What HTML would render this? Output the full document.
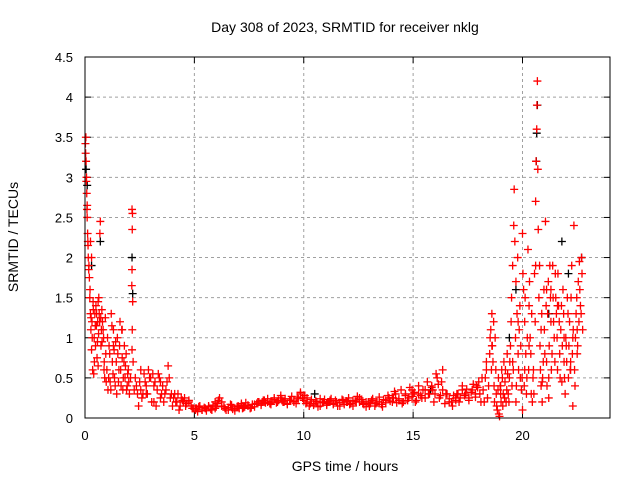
<!DOCTYPE html>
<html><head><meta charset="utf-8"><style>
body{margin:0;background:#fff}
svg{display:block;font-family:"Liberation Sans",sans-serif}
</style></head><body>
<svg id="c" width="640" height="480">
<text x="345" y="32" text-anchor="middle" font-size="14">Day 308 of 2023, SRMTID for receiver nklg</text>
<text x="345" y="471" text-anchor="middle" font-size="14">GPS time / hours</text>
<text transform="translate(18,237) rotate(-90)" text-anchor="middle" font-size="14">SRMTID / TECUs</text>
<g id="grid"></g>
<g id="ticks"></g>
<g id="black"></g>
<g id="red"></g>
<rect x="85" y="57" width="525" height="361" fill="none" stroke="#000" stroke-width="1"/>
</svg>
<script>
const xTicks=[0,5,10,15,20];
const yTicks=[0,0.5,1,1.5,2,2.5,3,3.5,4,4.5];
const yTickLabels=["0","0.5","1","1.5","2","2.5","3","3.5","4","4.5"];
const redHours=[0.02,0.04,0.05,0.06,0.08,0.1,0.1,0.12,0.14,0.15,0.17,0.2,0.22,0.25,0.27,0.3,0.32,0.35,0.38,0.4,0.42,0.45,0.48,0.5,0.52,0.55,0.58,0.6,0.62,0.65,0.68,0.7,0.72,0.75,0.78,0.8,0.85,0.88,0.9,0.95,0.25,0.3,
1.0,1.05,1.1,1.15,1.2,1.25,1.3,1.35,1.4,1.45,1.5,1.55,1.6,1.65,1.7,1.75,1.8,1.85,1.9,1.95,2.0,
2.15,2.17,2.16,2.15,2.14,2.18,2.16,2.15,2.2,2.25,
2.3,2.4,2.5,2.6,2.7,2.8,2.9,3.0,3.1,3.2,3.3,3.4,3.5,3.6,3.7,3.8,3.85,3.9,4.0,4.1,4.2,4.3,4.4,4.5,2.45,2.65,3.05,3.25,3.55,
4.6,4.75,4.9,5.05,5.2,5.35,5.5,5.65,5.8,5.95,6.1,6.25,6.4,6.55,6.7,6.85,7.0,7.15,7.3,7.45,7.6,7.75,7.9,8.05,8.2,8.35,8.5,8.65,8.8,8.95,9.1,9.25,9.4,9.55,9.7,9.85,10.0,10.15,10.3,10.45,10.6,10.75,10.9,11.05,11.2,11.35,11.5,11.65,11.8,11.95,12.1,12.25,12.4,12.55,12.7,12.85,13.0,13.15,13.3,13.45,13.6,13.75,13.9,14.05,14.2,14.35,14.5,14.65,14.8,14.95,15.1,15.25,15.4,15.55,15.7,15.85,16.0,16.1,16.2,16.35,16.5,16.65,16.8,16.95,17.1,17.25,17.4,17.55,17.7,17.85,18.0,18.1,18.2,18.3,18.4,18.5,18.55,18.6,18.65,18.7,18.75,18.8,18.85,18.9,18.95,19.0,19.05,19.1,19.2,19.3,19.35,19.4,19.45,19.5,19.55,19.6,19.62,19.65,19.7,19.75,19.8,19.85,19.9,19.95,20.0,20.05,20.1,20.15,20.2,20.25,20.3,20.35,20.4,20.45,20.5,20.55,20.6,20.62,20.65,20.68,20.66,20.7,20.72,20.75,20.8,20.85,20.9,20.95,21.0,21.05,21.1,21.15,21.2,21.25,21.3,21.35,21.4,21.45,21.5,21.55,21.6,21.65,21.7,21.75,21.8,21.85,21.9,21.95,22.0,22.05,22.1,22.15,22.2,22.25,22.3,22.35,22.4,22.45,22.5,22.55,22.6,22.65,22.7,22.75,
5.1,6.0,7.2,8.1,9.0,10.1,11.1,12.0,13.1,14.1,15.0,15.9,16.3,17.0,17.9,18.35,18.6,19.0,19.25,19.55,19.8,20.1,20.3,20.6,20.85,21.1,21.3,21.6,21.9,22.2,22.5,1.3,1.7,0.6,2.8,3.45];
const redTec=[3.42,3.5,3.2,2.95,2.8,2.65,2.5,2.3,2.15,2.0,1.85,1.75,1.5,1.3,1.1,0.85,1.2,0.6,1.35,0.55,1.0,1.3,0.9,1.4,1.15,0.75,1.2,1.45,1.05,1.3,2.3,2.45,1.25,1.1,0.95,1.2,1.0,0.7,0.5,0.8,2.2,2.0,
0.6,0.35,0.9,0.45,1.3,0.7,1.1,0.5,0.95,0.3,0.8,0.6,1.2,0.4,0.75,0.5,0.9,0.65,0.35,0.55,0.45,
2.6,2.55,2.35,1.85,1.65,1.45,1.1,0.85,0.7,0.35,
0.5,0.3,0.45,0.25,0.55,0.4,0.6,0.5,0.55,0.45,0.35,0.5,0.3,0.2,0.35,0.65,0.5,0.25,0.15,0.3,0.2,0.1,0.25,0.2,0.15,0.3,0.2,0.15,0.4,
0.15,0.2,0.12,0.1,0.14,0.1,0.12,0.15,0.1,0.2,0.22,0.15,0.12,0.1,0.16,0.12,0.15,0.18,0.14,0.16,0.13,0.17,0.2,0.18,0.22,0.2,0.17,0.23,0.2,0.25,0.2,0.18,0.22,0.2,0.26,0.3,0.22,0.25,0.18,0.16,0.2,0.15,0.2,0.18,0.22,0.17,0.2,0.15,0.22,0.2,0.17,0.22,0.2,0.25,0.18,0.2,0.15,0.22,0.18,0.2,0.14,0.22,0.25,0.2,0.3,0.22,0.18,0.3,0.25,0.35,0.2,0.3,0.25,0.35,0.3,0.4,0.3,0.5,0.25,0.6,0.3,0.2,0.15,0.25,0.2,0.35,0.3,0.25,0.35,0.3,0.45,0.2,0.35,0.5,0.25,0.8,1.1,1.3,0.7,0.4,1.0,0.3,0.1,0.5,0.02,0.3,0.6,0.15,0.45,0.8,0.3,0.5,0.9,1.5,1.9,2.4,2.85,2.2,1.7,1.3,0.8,1.1,0.5,0.35,2.3,1.6,1.2,0.8,0.5,2.1,1.4,1.0,0.3,0.2,0.6,1.8,2.7,3.2,3.6,4.2,3.9,3.1,2.35,1.5,0.9,0.4,0.2,0.7,1.1,2.45,1.6,1.3,0.5,1.9,1.2,0.8,1.5,1.0,1.8,1.3,0.6,1.4,0.8,1.1,0.45,1.6,0.7,0.3,0.9,1.5,0.5,1.2,0.7,1.9,1.0,2.4,0.4,1.3,0.8,1.7,1.95,1.4,2.0,1.1,
0.12,0.14,0.12,0.2,0.22,0.18,0.2,0.2,0.22,0.25,0.3,0.35,0.45,0.3,0.4,0.6,0.9,0.4,0.2,0.7,1.2,0.6,0.9,1.9,1.1,0.7,1.6,1.4,1.0,0.6,1.1,0.9,1.1,0.65,0.3,0.45];
const redHoursB=[4.55,4.65,4.75,4.85,4.95,
5.05,5.15,5.25,5.35,5.45,5.55,5.65,5.75,5.85,5.95,6.05,6.15,6.25,6.35,6.45,6.55,6.65,6.75,6.85,6.95,
7.05,7.15,7.25,7.35,7.45,7.55,7.65,7.75,7.85,7.95,8.05,8.15,8.25,8.35,8.45,8.55,8.65,8.75,8.85,8.95,
9.05,9.15,9.25,9.35,9.45,9.55,9.65,9.75,9.85,9.95,10.05,10.15,10.25,10.35,10.45,10.55,10.65,10.75,10.85,10.95,
11.05,11.15,11.25,11.35,11.45,11.55,11.65,11.75,11.85,11.95,12.05,12.15,12.25,12.35,12.45,12.55,12.65,12.75,12.85,12.95,
13.05,13.15,13.25,13.35,13.45,13.55,13.65,13.75,13.85,13.95,14.05,14.15,14.25,14.35,14.45,14.55,14.65,14.75,14.85,14.95,
15.05,15.15,15.25,15.35,15.45,15.55,15.65,15.75,15.85,15.95,16.05,16.15,16.25,16.35,16.45,16.55,16.65,16.75,16.85,16.95,
17.05,17.15,17.25,17.35,17.45,17.55,17.65,17.75,17.85,17.95,
0.03,0.07,0.09,0.13,0.18,0.23,0.28,0.33,0.37,0.43,0.47,0.53,0.57,0.63,0.67,0.73,0.77,0.83,0.87,0.93,0.97,1.03,1.08,1.13,1.18,1.23,1.28,1.33,1.38,1.43,1.48,1.53,1.58,1.63,1.68,1.73,1.78,1.83,1.88,1.93,1.98,2.03,2.08,
2.35,2.55,2.75,2.85,2.95,3.15,3.35,3.45,3.65,3.75,3.95,4.05,4.15,4.25,4.35,4.45,2.55,3.15,
18.05,18.15,18.25,18.35,18.45,18.52,18.58,18.62,18.68,18.72,18.78,18.82,18.88,18.92,18.98,19.02,19.08,19.12,19.15,19.18,19.22,19.28,19.32,19.38,19.42,19.48,19.52,19.58,19.68,19.72,19.78,19.82,19.88,19.92,19.98,20.02,20.08,20.12,20.18,20.22,20.28,20.32,20.38,20.42,20.48,20.52,20.58,20.78,20.82,20.88,20.92,20.98,21.02,21.08,21.12,21.18,21.22,21.28,21.32,21.38,21.42,21.48,21.52,21.58,21.62,21.68,21.72,21.78,21.82,21.88,21.92,21.98,22.02,22.08,22.12,22.18,22.22,22.28,22.32,22.38,22.42,22.48,22.52,22.58,22.62,22.68,22.72,19.7,20.0,21.2,20.9,22.3];
const redTecB=[0.25,0.18,0.22,0.15,0.12,
0.12,0.08,0.15,0.1,0.13,0.09,0.14,0.11,0.16,0.12,0.18,0.25,0.2,0.14,0.1,0.13,0.17,0.11,0.09,0.14,
0.12,0.16,0.13,0.19,0.15,0.12,0.17,0.14,0.18,0.2,0.16,0.22,0.19,0.24,0.18,0.21,0.25,0.19,0.22,0.28,
0.2,0.24,0.17,0.22,0.27,0.21,0.18,0.24,0.32,0.25,0.28,0.2,0.15,0.23,0.18,0.21,0.14,0.24,0.19,0.23,
0.16,0.2,0.24,0.18,0.22,0.15,0.19,0.23,0.17,0.21,0.25,0.18,0.15,0.21,0.27,0.2,0.23,0.17,0.14,0.2,
0.18,0.24,0.15,0.2,0.26,0.17,0.23,0.19,0.28,0.21,0.25,0.33,0.19,0.24,0.35,0.2,0.28,0.22,0.38,0.27,
0.32,0.22,0.4,0.28,0.35,0.25,0.45,0.3,0.38,0.2,0.55,0.42,0.28,0.35,0.18,0.3,0.24,0.2,0.28,0.22,
0.3,0.25,0.4,0.28,0.36,0.22,0.32,0.42,0.26,0.38,
3.3,3.0,2.6,2.2,1.9,1.6,1.25,1.0,1.45,0.7,1.15,1.3,0.95,1.5,1.2,0.9,1.35,1.1,0.6,1.25,0.45,1.0,0.5,0.8,0.35,1.15,0.55,0.85,0.4,0.7,1.0,0.45,0.9,0.6,1.1,0.35,0.7,0.5,0.8,0.4,0.6,0.3,0.5,
0.4,0.35,0.45,0.3,0.5,0.4,0.55,0.25,0.3,0.45,0.3,0.25,0.2,0.3,0.15,0.22,0.6,0.2,
0.3,0.5,0.2,0.7,0.4,1.0,0.6,0.9,1.2,0.2,0.6,0.15,0.35,0.05,0.4,0.2,0.5,0.3,0.7,0.25,0.6,0.35,0.55,0.2,0.7,1.2,0.4,0.6,1.0,0.4,2.0,0.6,1.4,0.9,0.5,1.8,0.4,1.5,0.3,1.0,0.6,1.7,0.8,1.3,0.5,0.3,1.2,1.9,0.6,1.3,0.5,1.6,0.8,1.4,0.4,1.7,0.9,1.5,0.6,1.9,1.2,0.7,1.5,1.0,1.8,1.2,0.5,1.4,0.9,1.3,0.5,1.0,0.7,1.3,0.9,0.6,1.5,0.8,1.1,0.6,1.0,1.5,0.9,1.2,1.6,1.3,1.8,0.2,0.1,0.25,0.45,0.15];
const blackHours=[0.05,0.1,0.3,0.7,2.15,2.18,10.5,15.8,19.7,20.68,20.65,20.63,21.8,22.7,22.1,19.4,21.2];
const blackTec=[3.1,2.9,1.9,2.2,2.0,1.55,0.3,0.35,1.6,3.9,3.55,3.2,2.2,2.0,1.8,1.0,1.3];

const X0=85,X1=610,Y0=418,Y1=57,XMAX=24,YMAX=4.5;
const sx=h=>X0+(X1-X0)*h/XMAX;
const sy=v=>Y0-(Y0-Y1)*v/YMAX;
const NS="http://www.w3.org/2000/svg";
function mk(tag,attrs,parent){const e=document.createElementNS(NS,tag);for(const k in attrs)e.setAttribute(k,attrs[k]);parent.appendChild(e);return e;}
const grid=document.getElementById('grid'),ticks=document.getElementById('ticks');
xTicks.forEach(t=>{const x=sx(t);
  if(t>0){const g=mk('line',{x1:x,x2:x,y1:Y0,y2:Y1,stroke:'#a0a0a0','stroke-dasharray':'3,3'},grid);
  
  }
  mk('line',{x1:x,x2:x,y1:Y0,y2:Y0-6,stroke:'#000'},ticks);
  mk('line',{x1:x,x2:x,y1:Y1,y2:Y1+6,stroke:'#000'},ticks);
  const l=mk('text',{x:x,y:Y0+22,'text-anchor':'middle','font-size':13},ticks);l.textContent=t;
  
  
});
yTicks.forEach((t,i)=>{const y=sy(t);
  if(t>0&&t<YMAX){const g=mk('line',{x1:X0,x2:X1,y1:y,y2:y,stroke:'#a0a0a0','stroke-dasharray':'3,3'},grid);
  
  }
  mk('line',{x1:X0,x2:X0+6,y1:y,y2:y,stroke:'#000'},ticks);
  mk('line',{x1:X1,x2:X1-6,y1:y,y2:y,stroke:'#000'},ticks);
  const l=mk('text',{x:X0-12,y:y+5,'text-anchor':'end','font-size':13},ticks);l.textContent=yTickLabels[i];
  
  
});
function plus(g,h,v,col){const x=sx(h),y=sy(v);
  const p=mk('path',{d:`M${x-4},${y}H${x+4}M${x},${y-4}V${y+4}`,stroke:col,'stroke-width':1.3},g);
  
  }
const bg=document.getElementById('black'),rg=document.getElementById('red');
blackHours.forEach((h,i)=>plus(bg,h,blackTec[i],'#000'));
redHours.forEach((h,i)=>plus(rg,h,redTec[i],'#ff0000'));
redHoursB.forEach((h,i)=>plus(rg,h,redTecB[i],'#ff0000'));
</script>
</body></html>
